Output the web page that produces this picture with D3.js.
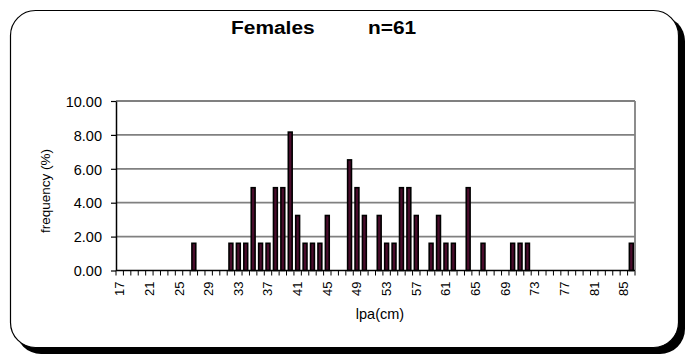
<!DOCTYPE html>
<html><head><meta charset="utf-8">
<script src="https://cdn.jsdelivr.net/npm/d3@7"></script>
<style>
html,body{margin:0;padding:0;background:#fff;}
svg{display:block;font-family:"Liberation Sans",Arial,sans-serif;}
</style></head>
<body><svg id="c" width="686" height="356"></svg>
<script>
const categories = [17,18,19,20,21,22,23,24,25,26,27,28,29,30,31,32,33,34,35,36,37,38,39,40,41,42,43,44,45,46,47,48,49,50,51,52,53,54,55,56,57,58,59,60,61,62,63,64,65,66,67,68,69,70,71,72,73,74,75,76,77,78,79,80,81,82,83,84,85,86];
const values = [0,0,0,0,0,0,0,0,0,0,1.64,0,0,0,0,1.64,1.64,1.64,4.92,1.64,1.64,4.92,4.92,8.20,3.28,1.64,1.64,1.64,3.28,0,0,6.56,4.92,3.28,0,3.28,1.64,1.64,4.92,4.92,3.28,0,1.64,3.28,1.64,1.64,0,4.92,0,1.64,0,0,0,1.64,1.64,1.64,0,0,0,0,0,0,0,0,0,0,0,0,0,1.64];
const xTickLabels = [17,21,25,29,33,37,41,45,49,53,57,61,65,69,73,77,81,85];
const yTicks = [0,2,4,6,8,10];
const title1 = "Females", title2 = "n=61";

const svg = d3.select("#c");
// frame with shadow
svg.append("rect").attr("x",16).attr("y",16).attr("width",669).attr("height",338).attr("rx",25).attr("fill","#000");
svg.append("rect").attr("x",10.5).attr("y",10.5).attr("width",668).attr("height",337).attr("rx",25).attr("fill","#fff").attr("stroke","#000").attr("stroke-width",1.2);

const L=116, R=635, T=101, B=270.5;
const x = d3.scaleBand().domain(categories).range([L,R]).paddingInner(0.32).paddingOuter(0.16);
const y = d3.scaleLinear().domain([0,10]).range([B,T]);

// gridlines
svg.append("g").selectAll("line").data(yTicks.filter(d=>d>0)).join("line")
  .attr("x1",L).attr("x2",R).attr("y1",d=>y(d)).attr("y2",d=>y(d))
  .attr("stroke","#808080").attr("stroke-width",1.8);
// right border
svg.append("line").attr("x1",R).attr("x2",R).attr("y1",T).attr("y2",B).attr("stroke","#808080").attr("stroke-width",1.8);

// bars
const data = categories.map((c,i)=>({c, v:values[i]})).filter(d=>d.v>0);
svg.append("g").selectAll("rect").data(data).join("rect")
  .attr("x",d=>x(d.c)+0.6).attr("width",x.bandwidth()-1.2)
  .attr("y",d=>y(d.v)+0.6).attr("height",d=>B-y(d.v)-0.6)
  .attr("fill","#4a0c2c").attr("stroke","#000").attr("stroke-width",1.6);

// y axis
const ya = svg.append("g").attr("transform",`translate(${L},0)`)
  .call(d3.axisLeft(y).tickValues(yTicks).tickFormat(d3.format(".2f")).tickSize(5).tickSizeOuter(0));
ya.select(".domain").attr("stroke","#000").attr("stroke-width",1.5);
ya.selectAll(".tick line").attr("stroke","#000").attr("stroke-width",1.2);
ya.selectAll(".tick text").attr("font-size",14.5).attr("fill","#000").attr("font-family","Liberation Sans, Arial, sans-serif").attr("x",-14).attr("dy","0.36em");

// x axis
svg.append("line").attr("x1",L).attr("x2",R).attr("y1",B).attr("y2",B).attr("stroke","#000").attr("stroke-width",1.5);
const step = x.step();
const bounds = categories.map(c=>x(c)-(step-x.bandwidth())/2).concat([x(categories[categories.length-1])+x.bandwidth()+(step-x.bandwidth())/2]);
svg.append("g").selectAll("line").data(bounds).join("line")
  .attr("x1",d=>d).attr("x2",d=>d).attr("y1",B).attr("y2",B+5)
  .attr("stroke","#000").attr("stroke-width",1);
svg.append("g").selectAll("text").data(xTickLabels).join("text")
  .attr("transform",d=>`translate(${x(d)+x.bandwidth()/2+4.5},${B+11}) rotate(-90)`)
  .attr("text-anchor","end").attr("font-size",13).attr("fill","#000").text(d=>d);

// axis titles
svg.append("text").attr("transform","translate(50,191) rotate(-90)").attr("text-anchor","middle")
  .attr("font-size",13.5).attr("fill","#000").text("frequency (%)");
svg.append("text").attr("x",380).attr("y",319).attr("text-anchor","middle")
  .attr("font-size",14.5).attr("fill","#000").text("lpa(cm)");

// title
svg.append("text").attr("transform","translate(231,34) scale(1.1,1)").attr("font-size",19).attr("font-weight","bold").attr("fill","#000").text(title1);
svg.append("text").attr("transform","translate(368,34) scale(1.1,1)").attr("font-size",19).attr("font-weight","bold").attr("fill","#000").text(title2);
</script></body></html>
